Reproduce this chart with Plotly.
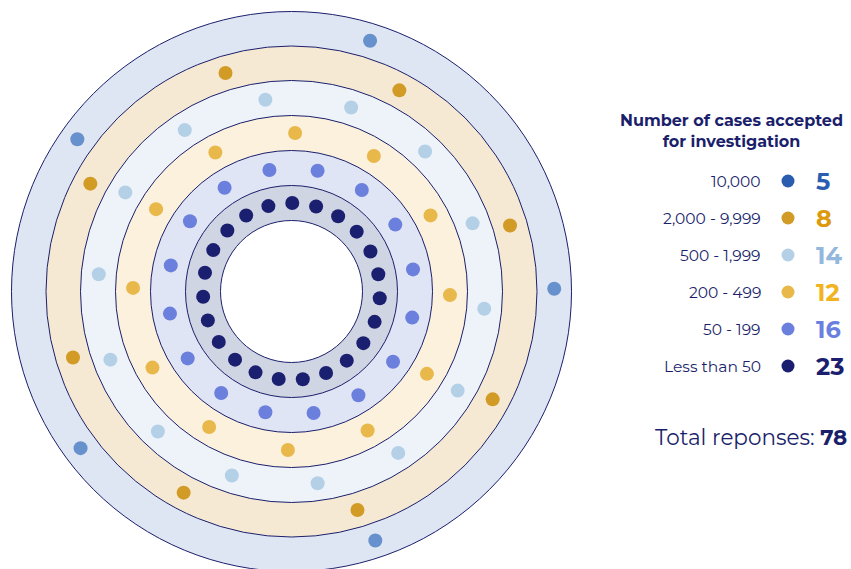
import numpy as np
import plotly.graph_objects as go

# ---- data ----
categories = ["10,000", "2,000 - 9,999", "500 - 1,999", "200 - 499", "50 - 199", "Less than 50"]
counts = [5, 8, 14, 12, 16, 23]
total = 78
legend_title = "Number of cases accepted<br>for investigation"
total_label = "Total reponses: "

# ---- style / layout ----
W, H = 851, 569
cx, cy = 291.5, 291.5
ring_edges = [280, 245.5, 211, 176, 141, 106, 71]
ring_fills = ["#dfe6f3", "#f5e9d4", "#eef3f9", "#fbf1dd", "#e0e5f6", "#d0d5e3", "#ffffff"]
dot_colors = ["#6691cc", "#d19b26", "#b4d0e7", "#e9b84a", "#6b7fdc", "#1b1f70"]
legend_dot_colors = ["#2a5db0", "#d19b26", "#b4d0e7", "#e9b84a", "#6b7fdc", "#1b1f70"]
number_colors = ["#2a5db0", "#dc9a0c", "#94b7de", "#f2b320", "#6b7fe0", "#1b1f6e"]
start_angles = [0.6, 16.8, -5.1, -1.3, 10.3, 89.5]
navy = "#1b1f6b"
FONT = "Montserrat, Inter, sans-serif"

fig = go.Figure()

shapes = []
for r, fc in zip(ring_edges, ring_fills):
    shapes.append(dict(type="circle", xref="x", yref="y",
                       x0=cx - r, x1=cx + r, y0=cy - r, y1=cy + r,
                       fillcolor=fc, line=dict(color=navy, width=1), layer="below"))

for i, (n, col, a0) in enumerate(zip(counts, dot_colors, start_angles)):
    rmid = (ring_edges[i] + ring_edges[i + 1]) / 2
    ang = np.deg2rad(a0 + np.arange(n) * 360.0 / n)
    xs = cx + rmid * np.cos(ang)
    ys = cy - rmid * np.sin(ang)
    fig.add_trace(go.Scatter(x=xs, y=ys, mode="markers",
                             marker=dict(size=14, color=col, line=dict(width=0)),
                             hoverinfo="skip", showlegend=False))

# legend
leg_y0, leg_dy = 181, 37
leg_x_label, leg_x_dot, leg_x_num = 763, 788, 814
ly = [leg_y0 + leg_dy * i for i in range(len(categories))]
fig.add_trace(go.Scatter(x=[leg_x_dot] * len(categories), y=ly, mode="markers",
                         marker=dict(size=13, color=legend_dot_colors, line=dict(width=0)),
                         hoverinfo="skip", showlegend=False))

annotations = [dict(x=731, y=131, xref="x", yref="y", text="<b>" + legend_title + "</b>",
                    showarrow=False, align="center", xanchor="center", yanchor="middle",
                    font=dict(family=FONT, size=16, color=navy))]
for i, cat in enumerate(categories):
    annotations.append(dict(x=leg_x_label, y=ly[i], xref="x", yref="y", text=cat,
                            showarrow=False, xanchor="right", yanchor="middle",
                            font=dict(family=FONT, size=15.5, color=navy)))
    annotations.append(dict(x=leg_x_num, y=ly[i], xref="x", yref="y",
                            text="<b>%d</b>" % counts[i],
                            showarrow=False, xanchor="left", yanchor="middle",
                            font=dict(family=FONT, size=24, color=number_colors[i])))
annotations.append(dict(x=849, y=437, xref="x", yref="y",
                        text=total_label + "<b>%d</b>" % total,
                        showarrow=False, xanchor="right", yanchor="middle",
                        font=dict(family=FONT, size=21.5, color=navy)))

fig.update_layout(width=W, height=H, autosize=False,
                  margin=dict(l=0, r=0, t=0, b=0),
                  paper_bgcolor="white", plot_bgcolor="white",
                  xaxis=dict(range=[0, W], visible=False, fixedrange=True),
                  yaxis=dict(range=[H, 0], visible=False, fixedrange=True),
                  shapes=shapes, annotations=annotations)

fig.write_html("out.html")
